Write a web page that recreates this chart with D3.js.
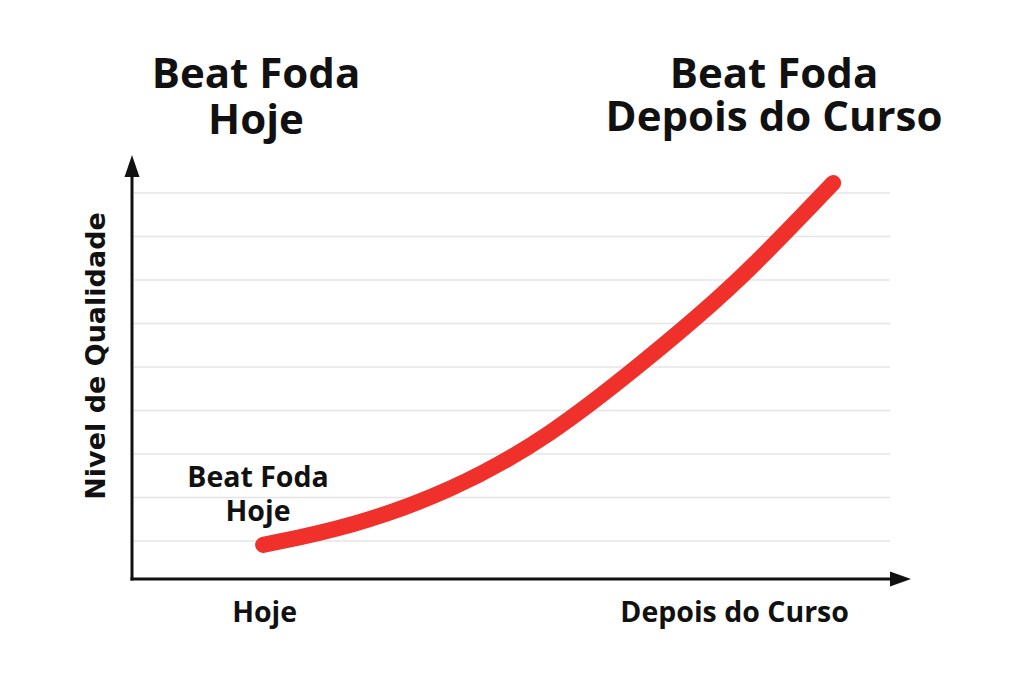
<!DOCTYPE html>
<html><head><meta charset="utf-8">
<script src="https://cdn.jsdelivr.net/npm/d3@7"></script>
<style>
html,body{margin:0;padding:0;background:#fff;}
svg{display:block;}
</style></head>
<body>
<script>
// ---- data ----
const stageLabels = ["Hoje", "Depois do Curso"];
const stageX = [17.5, 79.5];            // x positions (x-scale units) of the stage labels
const curveX = [17.3, 28.8, 42.0, 55.1, 68.3, 74.9, 81.5, 92.5];
const curveY = [0.91, 1.32, 2.13, 3.39, 5.23, 6.20, 7.23, 9.23];
const gridValues = [1, 2, 3, 4, 5, 6, 7, 8, 9];
const yAxisTitle = "Nivel de Qualidade";
const titleLeft = ["Beat Foda", "Hoje"];
const titleRight = ["Beat Foda", "Depois do Curso"];
const annotation = ["Beat Foda", "Hoje"];

const W = 1024, H = 683;
const svg = d3.select("body").append("svg").attr("width", W).attr("height", H);
svg.append("rect").attr("width", W).attr("height", H).attr("fill", "#fff");

const x = d3.scaleLinear().domain([0, 100]).range([132, 890]);
const y = d3.scaleLinear().domain([0, 10]).range([584.5, 149.5]);
const axisY = 579, axisX = 132;

// gridlines
svg.append("g").selectAll("line").data(gridValues).join("line")
  .attr("x1", axisX + 2).attr("x2", x(100))
  .attr("y1", d => y(d)).attr("y2", d => y(d))
  .attr("stroke", "#e4e4e4").attr("stroke-width", 1.5);

// axes
svg.append("line").attr("x1", axisX).attr("x2", axisX).attr("y1", axisY + 1.5).attr("y2", 172)
  .attr("stroke", "#111").attr("stroke-width", 3);
svg.append("path").attr("d", `M${axisX},155 L${axisX-7.5},177 L${axisX+7.5},177 Z`).attr("fill", "#111");
svg.append("line").attr("x1", axisX - 1.5).attr("x2", 895).attr("y1", axisY).attr("y2", axisY)
  .attr("stroke", "#111").attr("stroke-width", 3);
svg.append("path").attr("d", `M911,${axisY} L890,${axisY-7.5} L890,${axisY+7.5} Z`).attr("fill", "#111");

// curve
const pts = curveX.map((d, i) => [d, curveY[i]]);
const line = d3.line().x(d => x(d[0])).y(d => y(d[1])).curve(d3.curveBasis);
svg.append("path").attr("d", line(pts)).attr("fill", "none")
  .attr("stroke", "#f0302a").attr("stroke-width", 16)
  .attr("stroke-linecap", "round").attr("stroke-linejoin", "round");

const fontT = "'Open Sans', 'Noto Sans', sans-serif";

// x labels
svg.append("g").selectAll("text").data(stageLabels).join("text")
  .attr("x", (d, i) => x(stageX[i])).attr("y", 622)
  .attr("text-anchor", "middle").attr("font-family", fontT).attr("font-weight", 700)
  .attr("font-size", 28.5).attr("fill", "#111").text(d => d);

// y title
svg.append("text").attr("transform", "translate(105,356) rotate(-90)")
  .attr("text-anchor", "middle").attr("font-family", "'DejaVu Sans', sans-serif")
  .attr("font-weight", 700).attr("font-size", 27)
  .attr("fill", "#111").text(yAxisTitle);

// titles
function block(lines, cx, baselines, size) {
  svg.append("g").selectAll("text").data(lines).join("text")
    .attr("x", cx).attr("y", (d, i) => baselines[i])
    .attr("text-anchor", "middle").attr("font-family", fontT).attr("font-weight", 700)
    .attr("font-size", size).attr("fill", "#111").text(d => d);
}
block(titleLeft, 256, [88, 134], 42);
block(titleRight, 774, [88, 131], 42);
block(annotation, 258, [487, 521], 28.5);
</script>
</body></html>
